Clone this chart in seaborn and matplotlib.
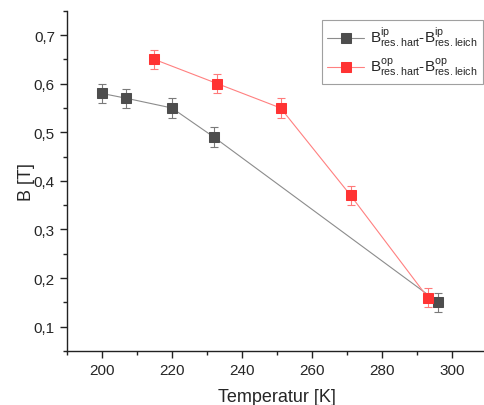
"""
Resonance field difference vs temperature (ip / op)
"""

import matplotlib
matplotlib.use("Agg")

import pandas as pd
import matplotlib.pyplot as plt
import seaborn as sns
from matplotlib.ticker import MultipleLocator, FuncFormatter

sns.set_style("ticks")
plt.rcParams['font.family'] = ['Liberation Sans', 'DejaVu Sans']
plt.rcParams['mathtext.default'] = 'regular'

# data
temp_ip = [200, 207, 220, 232, 296]
b_ip = [0.58, 0.57, 0.55, 0.49, 0.15]
err_ip = [0.02, 0.02, 0.02, 0.02, 0.02]

temp_op = [215, 233, 251, 271, 293]
b_op = [0.65, 0.60, 0.55, 0.37, 0.16]
err_op = [0.02, 0.02, 0.02, 0.02, 0.02]

label_ip = r'$B^{ip}_{res.hart}$-$B^{ip}_{res.leich}$'
label_op = r'$B^{op}_{res.hart}$-$B^{op}_{res.leich}$'

df = pd.concat([
    pd.DataFrame({'T': temp_ip, 'B': b_ip, 'err': err_ip, 'series': label_ip}),
    pd.DataFrame({'T': temp_op, 'B': b_op, 'err': err_op, 'series': label_op}),
], ignore_index=True)

styles = {
    label_ip: dict(line='#8c8c8c', marker='#4d4d4d', err='#7a7a7a'),
    label_op: dict(line='#ff8080', marker='#ff3333', err='#ff7a7a'),
}

fig = plt.figure(figsize=(4.85, 4.06), dpi=100)
ax = fig.add_axes([0.1375, 0.133, 0.8675, 0.838])

for name, sub in df.groupby('series', sort=False):
    st = styles[name]
    ax.errorbar(sub['T'], sub['B'], yerr=sub['err'], fmt='none',
                ecolor=st['err'], elinewidth=0.8, capsize=3, capthick=0.8, zorder=2)
    sns.lineplot(data=sub, x='T', y='B', ax=ax, sort=False, color=st['line'],
                 linewidth=0.8, marker='s', markersize=6.5, markerfacecolor=st['marker'],
                 markeredgecolor=st['marker'], label=name, zorder=3)

ax.set_xlim(190, 310)
ax.set_ylim(0.05, 0.75)
ax.xaxis.set_major_locator(MultipleLocator(20))
ax.xaxis.set_minor_locator(MultipleLocator(10))
ax.yaxis.set_major_locator(MultipleLocator(0.1))
ax.yaxis.set_minor_locator(MultipleLocator(0.05))
ax.yaxis.set_major_formatter(FuncFormatter(lambda v, p: f'{v:.1f}'.replace('.', ',')))

ax.tick_params(which='major', length=5, width=1, labelsize=11, color='#222222')
ax.tick_params(which='minor', length=3, width=1, color='#222222')
for s in ['top', 'right']:
    ax.spines[s].set_visible(False)
for s in ['left', 'bottom']:
    ax.spines[s].set_linewidth(1)
    ax.spines[s].set_color('#222222')

ax.set_xlabel('Temperatur [K]', fontsize=13, labelpad=8)
ax.set_ylabel('B [T]', fontsize=13, labelpad=-1)

leg = ax.legend(loc='upper left', bbox_to_anchor=(322 / 485, 1 - 21 / 406),
                bbox_transform=fig.transFigure, fontsize=11, frameon=True,
                fancybox=False, edgecolor='#888888', borderpad=0.35,
                borderaxespad=0, handlelength=2.4, handletextpad=0.4,
                labelspacing=0.45)
leg.get_frame().set_linewidth(0.8)

plt.savefig('out.png', dpi=100)
plt.close()
